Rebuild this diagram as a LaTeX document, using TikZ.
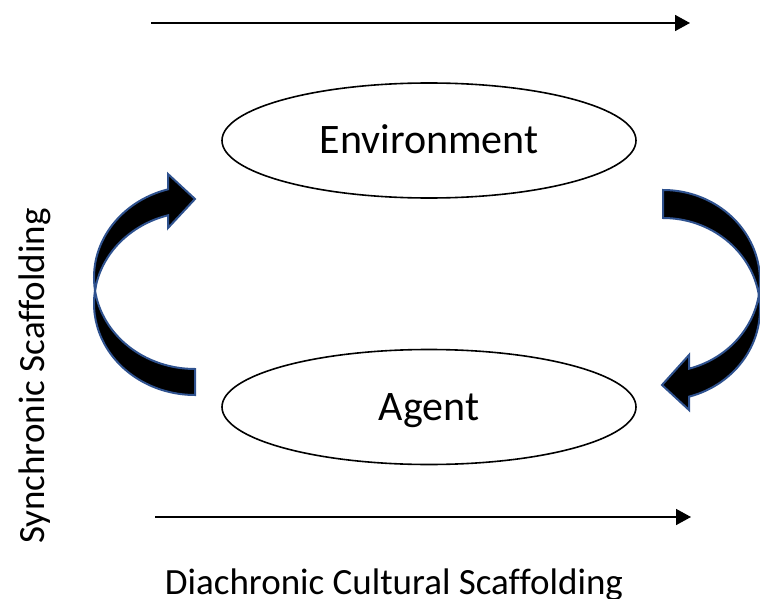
\documentclass[tikz,border=0pt]{standalone}
\usepackage{fontspec}
\setmainfont{Carlito}[Ligatures=NoCommon]
\usetikzlibrary{shapes.geometric,arrows.meta}
\definecolor{arrowrim}{RGB}{47,82,143}
\begin{document}
\begin{tikzpicture}[x=1pt,y=1pt,
  bubble/.style={draw=black,line width=1.6pt,ellipse,minimum width=414pt,
    minimum height=115pt,inner sep=0pt,font=\fontsize{42}{50}\selectfont,
    text height=26pt,text depth=0pt},
  timeline/.style={line width=1.6pt,-{Triangle[length=15pt,width=16pt]}},
  caption/.style={font=\fontsize{37}{44}\selectfont,inner sep=0pt},
  bentarrow/.style={fill=black,draw=arrowrim,line width=2pt,line join=miter}]
\useasboundingbox (0,0) rectangle (760,-599);

% time axes
\coordinate (topL) at (151,-23);
\coordinate (topR) at (690,-23);
\coordinate (botL) at (155,-517);
\coordinate (botR) at (691,-517);
\draw[timeline] (topL) -- (topR);
\draw[timeline] (botL) -- (botR);

% the two levels
\node[bubble] (env) at (429,-140.5) {Environment};
\node[bubble] (agent) at (429,-407) {Agent};

% left bent arrow: tail band (behind), then head band
\filldraw[bentarrow] (95.03,-290.5)
  arc[start angle=171.83,end angle=270,x radius=101,y radius=91.5]
  -- (195,-369)
  arc[start angle=270,end angle=188.17,x radius=101,y radius=91.5] -- cycle;
\filldraw[bentarrow] (95.03,-290.5)
  arc[start angle=188.17,end angle=105.5,x radius=101,y radius=91.5]
  -- (168,-174) -- (195,-199) -- (168,-228) -- (168,-215.3)
  arc[start angle=105.5,end angle=171.83,x radius=101,y radius=91.5] -- cycle;

% right bent arrow: tail band (behind), then head band
\filldraw[bentarrow] (663,-190)
  arc[start angle=90,end angle=-8.85,x radius=97,y radius=91]
  arc[start angle=8.85,end angle=90,x radius=97,y radius=91] -- cycle;
\filldraw[bentarrow] (758.85,-295)
  arc[start angle=8.85,end angle=-74.45,x radius=97,y radius=91]
  -- (689,-410) -- (662,-385) -- (689,-355) -- (689,-368.7)
  arc[start angle=-74.45,end angle=-8.85,x radius=97,y radius=91] -- cycle;

% axis captions
\node[caption,rotate=90,anchor=base] (sync) at (44,-376) {Synchronic Scaffolding};
\node[caption,anchor=base] (diach) at (394,-594) {Diachronic Cultural Scaffolding};
\end{tikzpicture}
\end{document}
